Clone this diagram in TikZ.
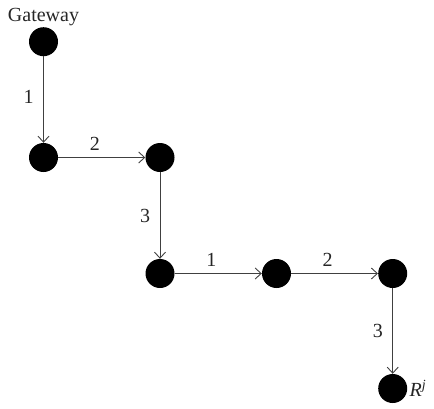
\documentclass[tikz,border=0pt]{standalone}
\usepackage{fontspec}
\setmainfont{Liberation Serif}
\usetikzlibrary{arrows.meta}
\begin{document}
\begin{tikzpicture}[x=1pt,y=-1pt,
  vtx/.style={circle,fill=black,minimum size=29pt,inner sep=0pt},
  lbl/.style={font=\fontsize{20}{22}\selectfont,text=black!85},
  link/.style={draw=black!75,line width=0.9pt,-{Straight Barb[length=6pt,width=11pt,line width=0.9pt]}}]
\useasboundingbox (0,0) rectangle (434,408);
\node[vtx] (a) at (43.5,41.7) {};
\node[vtx] (b) at (43.5,157.5) {};
\node[vtx] (c) at (160,157.5) {};
\node[vtx] (d) at (160,273.5) {};
\node[vtx] (e) at (276.5,273.5) {};
\node[vtx] (f) at (392.7,273.5) {};
\node[vtx] (g) at (392.7,388.5) {};
\node[lbl,anchor=south,inner sep=1pt] (gw) at (a.north) {Gateway};
\node[lbl,anchor=west,inner sep=2pt] (rj) at (g.east) {\textit{R}\textsuperscript{\textit{j}}};
\draw[link] (a) -- node[lbl,left=6pt,pos=0.47] {1} (b);
\draw[link] (b) -- node[lbl,above=3pt,pos=0.42] {2} (c);
\draw[link] (c) -- node[lbl,left=6pt,pos=0.5] {3} (d);
\draw[link] (d) -- node[lbl,above=3pt,pos=0.42] {1} (e);
\draw[link] (e) -- node[lbl,above=3pt,pos=0.42] {2} (f);
\draw[link] (f) -- node[lbl,left=6pt,pos=0.5] {3} (g);
\end{tikzpicture}
\end{document}
